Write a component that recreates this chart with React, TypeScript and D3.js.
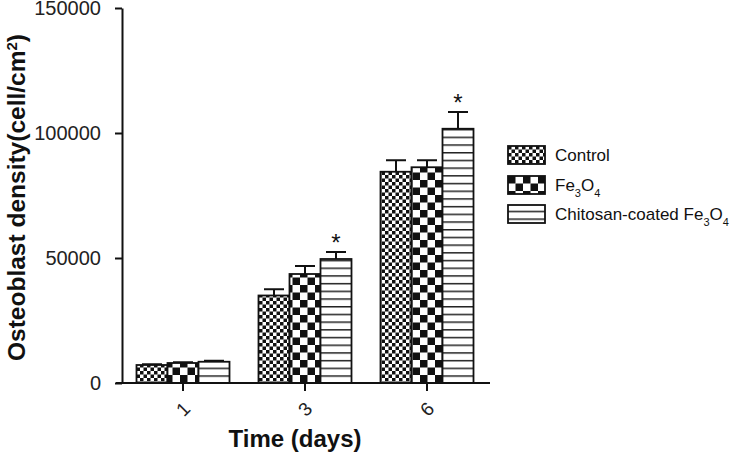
import * as d3 from "d3";
import { useEffect, useRef } from "react";

const days = ["1", "3", "6"];
const seriesNames = ["Control", "Fe3O4", "Chitosan-coated Fe3O4"];
const controlMean = [7200, 35000, 84500];
const controlErr = [300, 2500, 4600];
const fe3o4Mean = [8000, 43600, 86300];
const fe3o4Err = [300, 3200, 2800];
const chitosanMean = [8500, 49600, 101700];
const chitosanErr = [400, 2800, 6700];
const significant = [false, true, true];
const yTicks = [0, 50000, 100000, 150000];

const patternIds = ["fineChecker", "coarseChecker", "hLines"];
const FONT = "'Liberation Sans', Arial, sans-serif";

export default function App() {
  const svgRef = useRef<SVGSVGElement>(null);

  useEffect(() => {
    const svg = d3.select(svgRef.current);
    svg.selectAll("*").remove();

    const left = 122;
    const top = 8;
    const bottom = 383;

    //patterns
    const defs = svg.append("defs");
    const p1 = defs
      .append("pattern")
      .attr("id", patternIds[0])
      .attr("patternUnits", "userSpaceOnUse")
      .attr("width", 7)
      .attr("height", 7);
    p1.append("rect").attr("width", 7).attr("height", 7).attr("fill", "#fff");
    p1.append("rect").attr("width", 3.5).attr("height", 3.5).attr("fill", "#111");
    p1.append("rect").attr("x", 3.5).attr("y", 3.5).attr("width", 3.5).attr("height", 3.5).attr("fill", "#111");

    const p2 = defs
      .append("pattern")
      .attr("id", patternIds[1])
      .attr("patternUnits", "userSpaceOnUse")
      .attr("width", 15)
      .attr("height", 15);
    p2.append("rect").attr("width", 15).attr("height", 15).attr("fill", "#fff");
    p2.append("rect").attr("width", 7.5).attr("height", 7.5).attr("fill", "#111");
    p2.append("rect").attr("x", 7.5).attr("y", 7.5).attr("width", 7.5).attr("height", 7.5).attr("fill", "#111");

    const p3 = defs
      .append("pattern")
      .attr("id", patternIds[2])
      .attr("patternUnits", "userSpaceOnUse")
      .attr("width", 8)
      .attr("height", 7.7)
      .attr("y", bottom);
    p3.append("rect").attr("width", 8).attr("height", 7.7).attr("fill", "#fff");
    p3.append("line").attr("x1", 0).attr("x2", 8).attr("y1", 0.75).attr("y2", 0.75).attr("stroke", "#222").attr("stroke-width", 1.5);

    //scaling
    const y = d3.scaleLinear().domain([0, 150000]).range([bottom, top]);
    const x0 = d3.scaleBand().domain(days).range([left, 488]).padding(0);
    const x1 = d3.scaleBand().domain(seriesNames).range([-46.5, 46.5]);

    const means = [controlMean, fe3o4Mean, chitosanMean];
    const errs = [controlErr, fe3o4Err, chitosanErr];
    const rows = days.flatMap((d, i) =>
      seriesNames.map((s, j) => ({ day: d, s, j, mean: means[j][i], err: errs[j][i] }))
    );
    const cx = (d: string) => (x0(d) as number) + x0.bandwidth() / 2;

    //error bars
    const eb = svg.append("g").attr("stroke", "#111").attr("stroke-width", 2);
    rows.forEach((r) => {
      const xm = cx(r.day) + (x1(r.s) as number) + x1.bandwidth() / 2;
      eb.append("line").attr("x1", xm).attr("x2", xm).attr("y1", y(r.mean)).attr("y2", y(r.mean + r.err));
      eb.append("line").attr("x1", xm - 10).attr("x2", xm + 10).attr("y1", y(r.mean + r.err)).attr("y2", y(r.mean + r.err));
    });

    //bars
    svg
      .append("g")
      .selectAll("rect")
      .data(rows)
      .join("rect")
      .attr("x", (r) => cx(r.day) + (x1(r.s) as number))
      .attr("y", (r) => y(r.mean))
      .attr("width", x1.bandwidth())
      .attr("height", (r) => bottom - y(r.mean))
      .attr("fill", (r) => `url(#${patternIds[r.j]})`)
      .attr("stroke", "#111")
      .attr("stroke-width", 1.8);

    //asterisks
    days.forEach((d, i) => {
      if (!significant[i]) return;
      const xm = cx(d) + (x1(seriesNames[2]) as number) + x1.bandwidth() / 2;
      svg
        .append("text")
        .attr("x", xm)
        .attr("y", y(chitosanMean[i] + chitosanErr[i]) - 1)
        .attr("text-anchor", "middle")
        .attr("font-family", FONT)
        .attr("font-size", 24)
        .attr("fill", "#111")
        .text("*");
    });

    //axis
    const yAxis = d3.axisLeft(y).tickValues(yTicks).tickSize(7).tickSizeOuter(0).tickPadding(14).tickFormat(d3.format("d"));
    const gy = svg.append("g").attr("transform", `translate(${left},0)`).call(yAxis);
    gy.select(".domain").attr("stroke-width", 2).attr("stroke", "#111");
    gy.selectAll(".tick line").attr("stroke-width", 2).attr("stroke", "#111");
    gy.selectAll(".tick text").attr("font-family", FONT).attr("font-size", 20).attr("fill", "#222");

    const xAxis = d3.axisBottom(x0).tickSize(8).tickSizeOuter(0);
    const gx = svg.append("g").attr("transform", `translate(0,${bottom})`).call(xAxis);
    gx.select(".domain").remove();
    gx.selectAll(".tick line").attr("stroke-width", 2).attr("stroke", "#111");
    gx.selectAll(".tick text")
      .attr("font-family", FONT)
      .attr("font-size", 19)
      .attr("fill", "#222")
      .attr("y", 0)
      .attr("dy", "0.35em")
      .attr("text-anchor", "middle")
      .attr("transform", "translate(0,26) rotate(-45)");
    svg.append("line").attr("x1", 116).attr("x2", 490).attr("y1", bottom).attr("y2", bottom).attr("stroke", "#111").attr("stroke-width", 2);

    //axis titles
    const yl = svg
      .append("text")
      .attr("transform", `translate(25,${(top + bottom) / 2 + 2}) rotate(-90)`)
      .attr("text-anchor", "middle")
      .attr("font-family", FONT)
      .attr("font-weight", "bold")
      .attr("font-size", 24.5)
      .attr("fill", "#111");
    yl.append("tspan").text("Osteoblast density(cell/cm");
    yl.append("tspan").attr("font-size", 15).attr("baseline-shift", "super").text("2");
    yl.append("tspan").text(")");

    svg
      .append("text")
      .attr("x", 295)
      .attr("y", 447)
      .attr("text-anchor", "middle")
      .attr("font-family", FONT)
      .attr("font-weight", "bold")
      .attr("font-size", 24)
      .attr("fill", "#111")
      .text("Time (days)");

    //legend
    const legY = [146, 176, 205];
    seriesNames.forEach((s, j) => {
      const g = svg.append("g").attr("transform", `translate(508,${legY[j]})`);
      g.append("rect")
        .attr("width", 37)
        .attr("height", 18)
        .attr("fill", `url(#${patternIds[j]})`)
        .attr("stroke", "#111")
        .attr("stroke-width", 1.8);
      const t = g
        .append("text")
        .attr("x", 47)
        .attr("y", 15)
        .attr("font-family", FONT)
        .attr("font-size", 17)
        .attr("fill", "#111");
      const parts = s.match(/[A-Za-z\- ]+|\d/g) || [];
      parts.forEach((p) => {
        if (/^\d$/.test(p)) {
          t.append("tspan").attr("font-size", 11).attr("baseline-shift", "sub").text(p);
        } else {
          t.append("tspan").text(p);
        }
      });
    });
  }, []);

  return (
    <div>
      <svg
        ref={svgRef}
        width={730}
        height={453}
        style={{ position: "absolute", left: 0, top: 0, background: "#fff" }}
      ></svg>
    </div>
  );
}
